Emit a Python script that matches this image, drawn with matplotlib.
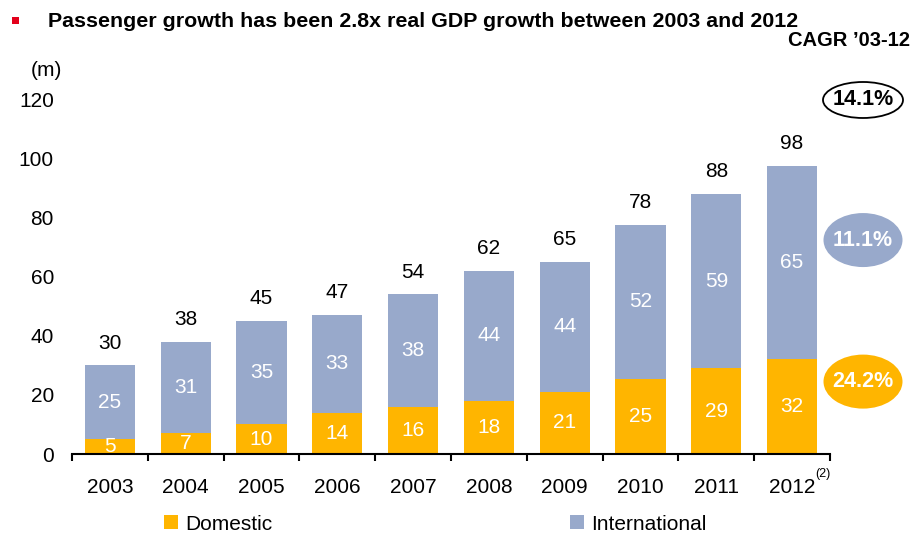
import matplotlib
matplotlib.use("Agg")
import matplotlib.pyplot as plt
from matplotlib.patches import Ellipse, Rectangle, Patch
import numpy as np

plt.rcParams['font.family'] = ['Liberation Sans', 'DejaVu Sans']

# Passenger numbers (millions)
years = ['2003', '2004', '2005', '2006', '2007', '2008', '2009', '2010', '2011', '2012']
domestic = [5, 7, 10, 14, 16, 18, 21, 25.4, 29, 32.2]
international = [25, 31, 35, 33, 38, 44, 44, 52.2, 59, 65.4]
series_names = ['Domestic', 'International']
cagr_total = '14.1%'
cagr_international = '11.1%'
cagr_domestic = '24.2%'
y_ticks = [0, 20, 40, 60, 80, 100, 120]

ORANGE = '#FFB500'
BLUE = '#98A9CB'

W, H = 913, 534
fig = plt.figure(figsize=(W / 100, H / 100), dpi=100)

# axes box in pixel terms
ax_left, ax_right, ax_bottom, ax_top = 72, 830, 454, 99.4
ax = fig.add_axes([ax_left / W, 1 - ax_bottom / H,
                   (ax_right - ax_left) / W, (ax_bottom - ax_top) / H])

x = np.arange(len(years))
dom = np.array(domestic)
intl = np.array(international)
total = dom + intl
bw = 0.66

ax.bar(x, dom, width=bw, color=ORANGE, linewidth=0)
ax.bar(x, intl, width=bw, bottom=dom, color=BLUE, linewidth=0)

fs = 15
for xi, d, i, t in zip(x, dom, intl, total):
    ax.text(xi, d / 2, f'{d:.0f}', ha='center', va='center', color='white', fontsize=fs)
    ax.text(xi, d + i / 2, f'{i:.0f}', ha='center', va='center', color='white', fontsize=fs)
    ax.annotate(f'{t:.0f}', xy=(xi, t), xytext=(0, 16), textcoords='offset points',
                ha='center', va='center', fontsize=fs, color='black')

ax.set_xlim(-0.5, len(years) - 0.5)
ax.set_ylim(0, 120)
ax.set_yticks(y_ticks)
ax.tick_params(axis='y', length=0, pad=13, labelsize=fs)
ax.set_xticks(x)
ax.set_xticklabels(years)
ax.set_xticks(np.arange(-0.5, len(years), 1), minor=True)
ax.tick_params(axis='x', which='major', length=0, pad=17, labelsize=fs)
ax.tick_params(axis='x', which='minor', length=5, width=1.5, direction='out')
for s in ['left', 'right', 'top']:
    ax.spines[s].set_visible(False)
ax.spines['bottom'].set_linewidth(1.5)

# footnote marker on the last year
ax.annotate('(2)', xy=(x[-1], 0), xytext=(16.5, -10), textcoords='offset points',
            ha='left', va='top', fontsize=9)

# CAGR bubbles to the right of the bars
ex = 9.5 + 33 / 75.8
bubble_fs = 15.5
ax.add_patch(Ellipse((ex, 119.8), 80 / 75.8, 36 / 2.955, facecolor='white',
                     edgecolor='black', linewidth=1.3, clip_on=False))
ax.text(ex, 119.8, cagr_total, ha='center', va='center', fontsize=bubble_fs,
        fontweight='bold', color='black', clip_on=False)
ax.add_patch(Ellipse((ex, 72.4), 79 / 75.8, 54 / 2.955, facecolor=BLUE,
                     edgecolor='none', clip_on=False))
ax.text(ex, 72.4, cagr_international, ha='center', va='center', fontsize=bubble_fs,
        fontweight='bold', color='white', clip_on=False)
ax.add_patch(Ellipse((ex, 24.5), 79 / 75.8, 54 / 2.955, facecolor=ORANGE,
                     edgecolor='none', clip_on=False))
ax.text(ex, 24.5, cagr_domestic, ha='center', va='center', fontsize=bubble_fs,
        fontweight='bold', color='white', clip_on=False)

# headline with bullet
fig.add_artist(Rectangle((12 / W, 1 - 23.5 / H), 6.5 / W, 6.5 / H,
                         transform=fig.transFigure, facecolor='#E3001B', edgecolor='none'))
fig.text(48 / W, 1 - 27 / H, 'Passenger growth has been 2.8x real GDP growth between 2003 and 2012',
         ha='left', va='baseline', fontsize=15.4, fontweight='bold')
fig.text(910 / W, 1 - 40 / H, 'CAGR \u201903-12', ha='right', va='center',
         fontsize=14.5, fontweight='bold')
fig.text(46 / W, 1 - 71 / H, '(m)', ha='center', va='center', fontsize=fs)

handles = [Patch(facecolor=ORANGE, edgecolor='none'), Patch(facecolor=BLUE, edgecolor='none')]
fig.legend(handles, series_names, loc='center left', bbox_to_anchor=(164 / W, 1 - 524 / H),
           ncol=2, frameon=False, fontsize=fs, borderpad=0, borderaxespad=0,
           handlelength=0.67, handleheight=0.65, handletextpad=0.34, columnspacing=14.3)

fig.savefig('out.png', dpi=100)
